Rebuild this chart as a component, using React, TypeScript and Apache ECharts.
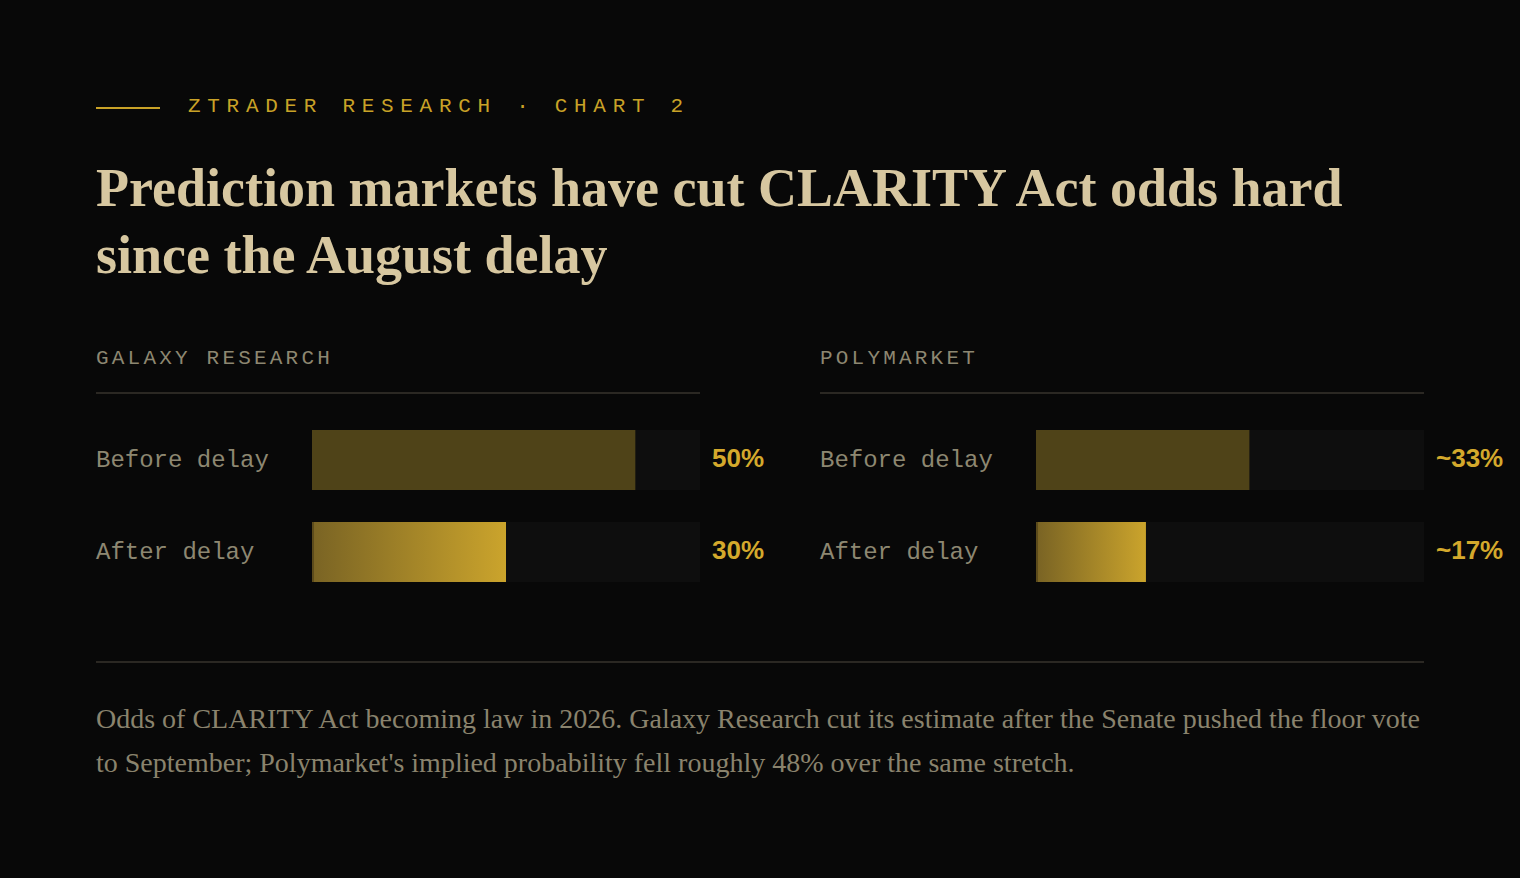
import React, { useRef, useEffect } from 'react';
import * as echarts from 'echarts';

// Chart data
const CATEGORIES = ['Before delay', 'After delay'];
const GALAXY_VALUES = [50, 30];
const GALAXY_LABELS = ['50%', '30%'];
const POLY_VALUES = [33, 17];
const POLY_LABELS = ['~33%', '~17%'];
const AXIS_MAX = 60;

const PANELS = [
  { name: 'GALAXY RESEARCH', values: GALAXY_VALUES, labels: GALAXY_LABELS },
  { name: 'POLYMARKET', values: POLY_VALUES, labels: POLY_LABELS },
];

// Layout
const W = 1520;
const H = 878;
const PANEL_X = [96, 820];
const PANEL_W = 604;
const LABEL_COL = 216;
const TRACK_W = PANEL_W - LABEL_COL;
const BAR_H = 60;

const BG = '#080808';
const GOLD = '#c9a227';
const VALUE_GOLD = '#d4a92c';
const MUTED = '#8d8771';
const MONO = '"Liberation Mono", "DejaVu Sans Mono", monospace';
const SERIF = '"Liberation Serif", "DejaVu Serif", serif';

// top of a line box so that the first baseline lands where we want it
function topFor(baseline: number, size: number, lineH: number, asc: number, desc: number) {
  return baseline - ((lineH - (asc + desc) * size) / 2 + asc * size);
}

const App: React.FC = () => {
  const chartRef = useRef<HTMLDivElement>(null);

  useEffect(() => {
    if (!chartRef.current) return;
    const chart = echarts.init(chartRef.current, undefined, { renderer: 'svg' });

    const grids = PANELS.map((_, i) => ({
      left: PANEL_X[i] + LABEL_COL,
      top: 414,
      width: TRACK_W,
      height: 184,
    }));

    const xAxes = PANELS.map((_, i) => ({
      type: 'value' as const,
      gridIndex: i,
      min: 0,
      max: AXIS_MAX,
      show: false,
    }));

    const yAxes = PANELS.map((_, i) => ({
      type: 'category' as const,
      gridIndex: i,
      data: CATEGORIES,
      inverse: true,
      axisLine: { show: false },
      axisTick: { show: false },
      splitLine: { show: false },
      axisLabel: {
        margin: LABEL_COL,
        align: 'left' as const,
        color: MUTED,
        fontFamily: MONO,
        fontSize: 24,
        padding: [0, 0, 4, 0],
      },
    }));

    const series: any[] = [];
    PANELS.forEach((panel, i) => {
      // track (full scale) carrying the value labels
      series.push({
        type: 'bar',
        xAxisIndex: i,
        yAxisIndex: i,
        data: CATEGORIES.map(() => AXIS_MAX),
        barWidth: BAR_H,
        silent: true,
        z: 1,
        itemStyle: { color: '#0e0e0e' },
        label: {
          show: true,
          position: 'right',
          distance: 12,
          offset: [0, -2],
          formatter: (p: any) => panel.labels[p.dataIndex],
          fontFamily: '"Liberation Sans", Arial, sans-serif',
          fontWeight: 'bold',
          fontSize: 26,
          color: VALUE_GOLD,
        },
      });
      series.push({
        type: 'bar',
        xAxisIndex: i,
        yAxisIndex: i,
        barGap: '-100%',
        barWidth: BAR_H,
        silent: true,
        z: 2,
        data: panel.values.map((v, k) => {
          if (k === 0) return { value: v, itemStyle: { color: '#4f4318' } };
          const edge = 2 / ((v / AXIS_MAX) * TRACK_W);
          return {
            value: v,
            itemStyle: {
              color: new echarts.graphic.LinearGradient(0, 0, 1, 0, [
                { offset: 0, color: '#5c4b1b' },
                { offset: edge, color: '#5c4b1b' },
                { offset: edge + 0.0001, color: '#7a6424' },
                { offset: 1, color: '#cba42c' },
              ]),
            },
          };
        }),
      });
    });

    chart.setOption({
      animation: false,
      backgroundColor: 'transparent',
      grid: grids,
      xAxis: xAxes,
      yAxis: yAxes,
      series,
    });

    return () => {
      chart.dispose();
    };
  }, []);

  const monoA = 0.833, monoD = 0.3;
  const serifA = 0.891, serifD = 0.216;

  return (
    <div style={{ position: 'fixed', left: 0, top: 0, width: W, height: H, background: BG, overflow: 'hidden' }}>
      <div ref={chartRef} style={{ position: 'absolute', left: 0, top: 0, width: W, height: H }} />

      {/* kicker */}
      <div style={{ position: 'absolute', left: 96, top: 107, width: 64, height: 2, background: GOLD }} />
      <div
        style={{
          position: 'absolute',
          left: 188,
          top: topFor(112, 21, 21, monoA, monoD),
          fontFamily: MONO,
          fontSize: 21,
          lineHeight: '21px',
          letterSpacing: 6.7,
          color: GOLD,
          whiteSpace: 'nowrap',
        }}
      >
        ZTRADER RESEARCH · CHART 2
      </div>

      {/* title */}
      <div
        style={{
          position: 'absolute',
          left: 96,
          top: topFor(207, 54, 67, serifA, serifD),
          fontFamily: SERIF,
          fontWeight: 'bold',
          fontSize: 54,
          lineHeight: '67px',
          color: '#d7c7a0',
          whiteSpace: 'nowrap',
        }}
      >
        Prediction markets have cut CLARITY Act odds hard
        <br />
        since the August delay
      </div>

      {/* panel headers */}
      {PANELS.map((panel, i) => (
        <React.Fragment key={panel.name}>
          <div
            style={{
              position: 'absolute',
              left: PANEL_X[i],
              top: topFor(364, 21, 21, monoA, monoD),
              fontFamily: MONO,
              fontSize: 21,
              lineHeight: '21px',
              letterSpacing: 3.2,
              color: MUTED,
              whiteSpace: 'nowrap',
            }}
          >
            {panel.name}
          </div>
          <div style={{ position: 'absolute', left: PANEL_X[i], top: 392, width: PANEL_W, height: 2, background: '#2b2823' }} />
        </React.Fragment>
      ))}

      {/* footer */}
      <div style={{ position: 'absolute', left: 96, top: 661, width: 1328, height: 2, background: '#2b2823' }} />
      <div
        style={{
          position: 'absolute',
          left: 96,
          top: topFor(728, 28, 44, serifA, serifD),
          fontFamily: SERIF,
          fontSize: 28,
          lineHeight: '44px',
          color: '#8a836d',
          whiteSpace: 'nowrap',
        }}
      >
        Odds of CLARITY Act becoming law in 2026. Galaxy Research cut its estimate after the Senate pushed the floor vote
        <br />
        to September; Polymarket's implied probability fell roughly 48% over the same stretch.
      </div>
    </div>
  );
};

export default App;
